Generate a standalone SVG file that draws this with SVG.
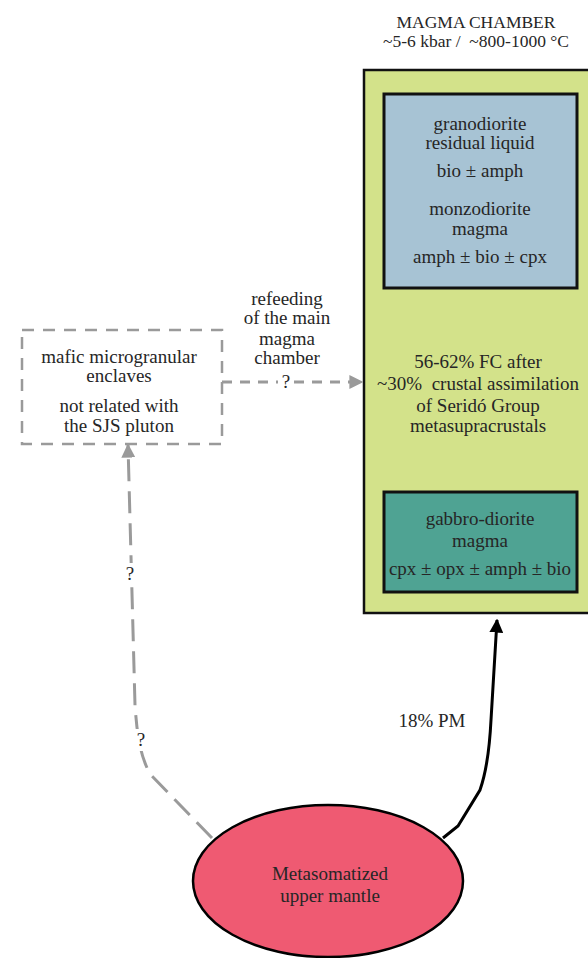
<svg xmlns="http://www.w3.org/2000/svg" width="588" height="958" viewBox="0 0 588 958">
<style>
text{font-family:"Liberation Serif","Times New Roman",serif;font-size:19px;fill:#262626;text-anchor:middle;white-space:pre}
.box{stroke:#111;stroke-width:3}
.gray{fill:none;stroke:#9a9a9a;stroke-width:3}
.bg{fill:#fff}
</style>
<defs>
<marker id="ab" viewBox="0 0 10 10" refX="9" refY="5" markerWidth="14" markerHeight="14" markerUnits="userSpaceOnUse" orient="auto"><path d="M0,0 L10,5 L0,10 z" fill="#000"/></marker>
<marker id="ag" viewBox="0 0 10 10" refX="9" refY="5" markerWidth="14" markerHeight="14" markerUnits="userSpaceOnUse" orient="auto"><path d="M0,0 L10,5 L0,10 z" fill="#9a9a9a"/></marker>
</defs>
<g id="title"><text x="476" y="28" style="font-size:17.5px">MAGMA CHAMBER</text><text x="476" y="47" style="font-size:17.5px">~5-6 kbar /  ~800-1000 °C</text></g>
<g id="chamber">
<rect x="364" y="70" width="240" height="543" fill="#d3e28a" stroke="#111" stroke-width="2.5"/>
<text x="478" y="368">56-62% FC after</text>
<text x="478" y="390">~30%  crustal assimilation</text>
<text x="478" y="412">of Seridó Group</text>
<text x="478" y="432">metasupracrustals</text>
</g>
<g id="granodiorite">
<rect class="box" x="384" y="94" width="193" height="194" fill="#a7c3d4"/>
<text x="480" y="130">granodiorite</text>
<text x="480" y="149">residual liquid</text>
<text x="480" y="177">bio ± amph</text>
<text x="480" y="215">monzodiorite</text>
<text x="480" y="235">magma</text>
<text x="480" y="263">amph ± bio ± cpx</text>
</g>
<g id="gabbro">
<rect class="box" x="384" y="492" width="193" height="100" fill="#4fa393"/>
<text x="480" y="525">gabbro-diorite</text>
<text x="480" y="547">magma</text>
<text x="480" y="575">cpx ± opx ± amph ± bio</text>
</g>
<g id="enclaves">
<rect x="22" y="330" width="200" height="114" fill="#fff" stroke="#9a9a9a" stroke-width="2.5" stroke-dasharray="12,9"/>
<text x="119" y="363">mafic microgranular</text>
<text x="119" y="382">enclaves</text>
<text x="119" y="412">not related with</text>
<text x="119" y="432">the SJS pluton</text>
</g>
<g id="mantle">
<ellipse cx="328" cy="881" rx="135" ry="76" fill="#ef5a72" stroke="#000" stroke-width="2.5"/>
<text x="330" y="880">Metasomatized</text>
<text x="330" y="902">upper mantle</text>
</g>
<g id="connectors">
<path d="M222,382 H362" class="gray" stroke-width="2" stroke-dasharray="10,8" marker-end="url(#ag)"/>
<path d="M443,838 L458,826 L480,790 C487,770 490,740 491,720 L497,620" fill="none" stroke="#000" stroke-width="3" marker-end="url(#ab)"/>
<path d="M212,838 L150,774 C140,755 137,735 135,705 L128,445" class="gray" stroke-dasharray="22,10" marker-end="url(#ag)"/>
<rect class="bg" x="278" y="370" width="16" height="22"/>
<rect class="bg" x="123" y="563" width="14" height="22"/>
<rect class="bg" x="134" y="729" width="14" height="22"/>
<text x="286" y="388">?</text>
<text x="130" y="580">?</text>
<text x="141" y="746">?</text>
<text x="287" y="305">refeeding</text>
<text x="287" y="324">of the main</text>
<text x="287" y="345">magma</text>
<text x="287" y="364">chamber</text>
<text x="432" y="727">18% PM</text>
</g>
</svg>
